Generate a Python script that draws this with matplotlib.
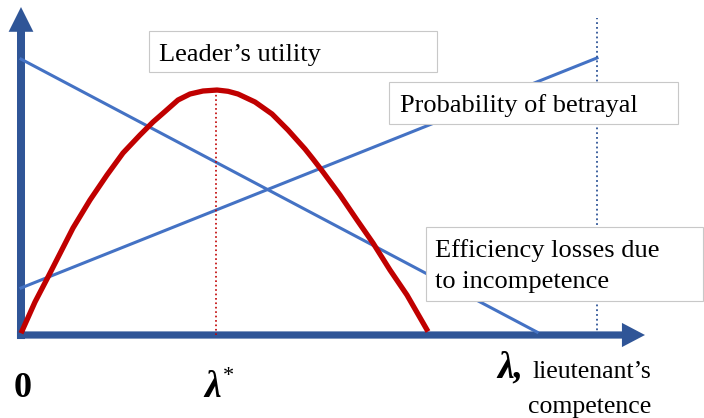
import matplotlib
matplotlib.use('Agg')
import matplotlib.pyplot as plt
from matplotlib.patches import FancyArrow, Rectangle

plt.rcParams['font.family'] = ['Liberation Serif', 'DejaVu Serif']

# 数据（概念图，单位任意；横轴 λ 以右侧虚线处为 10）
lam_utility = [0, 0.243, 0.469, 0.677, 0.903, 1.198, 1.493, 1.771, 2.066, 2.292, 2.500, 2.726,
               2.934, 3.160, 3.403, 3.594, 3.767, 4.063, 4.358, 4.635, 4.931, 5.069, 5.243,
               5.538, 5.833, 6.111, 6.406, 6.701, 7.066]
utility = [0.03, 0.573, 1.007, 1.415, 1.858, 2.344, 2.778, 3.160, 3.472, 3.698, 3.880, 4.080,
           4.184, 4.236, 4.253, 4.231, 4.184, 4.045, 3.837, 3.559, 3.229, 3.056, 2.830,
           2.431, 1.997, 1.597, 1.128, 0.694, 0.06]

lam_betrayal = [0, 10]
betrayal = [0.816, 4.81]

lam_efficiency = [0, 8.96]
efficiency = [4.79, 0.05]

lam_star = 3.385
lam_max = 10
utility_star = 4.253

AXIS = '#2F5597'
BLUE = '#4472C4'
RED = '#C00000'
GRID = '#C8C8C8'

fig = plt.figure(figsize=(7.04, 4.18), dpi=100)
ax = fig.add_axes([0, 0, 1, 1])
s = 57.6  # px per unit
ax.set_xlim(-21 / s, (704 - 21) / s)
ax.set_ylim(-(418 - 335) / s, 335 / s)
ax.axis('off')

# 坐标轴箭头
ax.add_patch(FancyArrow(0, -0.07, 0, 5.764, width=0.139, head_width=0.43, head_length=0.43,
                        length_includes_head=True, color=AXIS, lw=0, zorder=2))
ax.add_patch(FancyArrow(-0.07, 0, 10.903, 0, width=0.125, head_width=0.42, head_length=0.40,
                        length_includes_head=True, color=AXIS, lw=0, zorder=2))

# 线
ax.plot(lam_betrayal, betrayal, color=BLUE, lw=2.2, zorder=3)
ax.plot(lam_efficiency, efficiency, color=BLUE, lw=2.2, zorder=3)
ax.plot([lam_max, lam_max], [0, 5.5], color=AXIS, lw=1.3, ls=':', zorder=3)
ax.plot([lam_star, lam_star], [0, utility_star], color=RED, lw=1.2, ls=':', zorder=3)
ax.plot(lam_utility, utility, color=RED, lw=3.8, solid_capstyle='butt', solid_joinstyle='round', zorder=4)

# 文本框
boxes = [(2.222, 4.566, 5.0, 0.712), (6.389, 3.663, 5.017, 0.729), (7.031, 0.590, 4.81, 1.285)]
for x0, y0, w, h in boxes:
    ax.add_patch(Rectangle((x0, y0), w, h, facecolor='white', edgecolor=GRID, lw=0.8, zorder=5))

ax.text(2.396, 4.757, 'Leader’s utility', fontsize=19, va='baseline', ha='left', zorder=6)
ax.text(6.580, 3.872, 'Probability of betrayal', fontsize=19, va='baseline', ha='left', zorder=6)
ax.text(7.188, 1.354, 'Efficiency losses due', fontsize=19, va='baseline', ha='left', zorder=6)
ax.text(7.188, 0.816, 'to incompetence', fontsize=19, va='baseline', ha='left', zorder=6)

# 横轴标注
ax.text(0.035, -1.076, '0', fontsize=26, fontweight='bold', ha='center', va='baseline')
ax.text(3.18, -1.076, 'λ', fontsize=27, fontweight='bold', style='italic', ha='left', va='baseline')
ax.text(3.50, -0.80, '*', fontsize=16, ha='left', va='baseline')
ax.text(8.264, -0.729, 'λ,', fontsize=27, fontweight='bold', style='italic', ha='left', va='baseline')
ax.text(8.889, -0.747, 'lieutenant’s', fontsize=18.5, ha='left', va='baseline')
ax.text(8.80, -1.354, 'competence', fontsize=18.5, ha='left', va='baseline')

fig.savefig('out.png', dpi=100)
